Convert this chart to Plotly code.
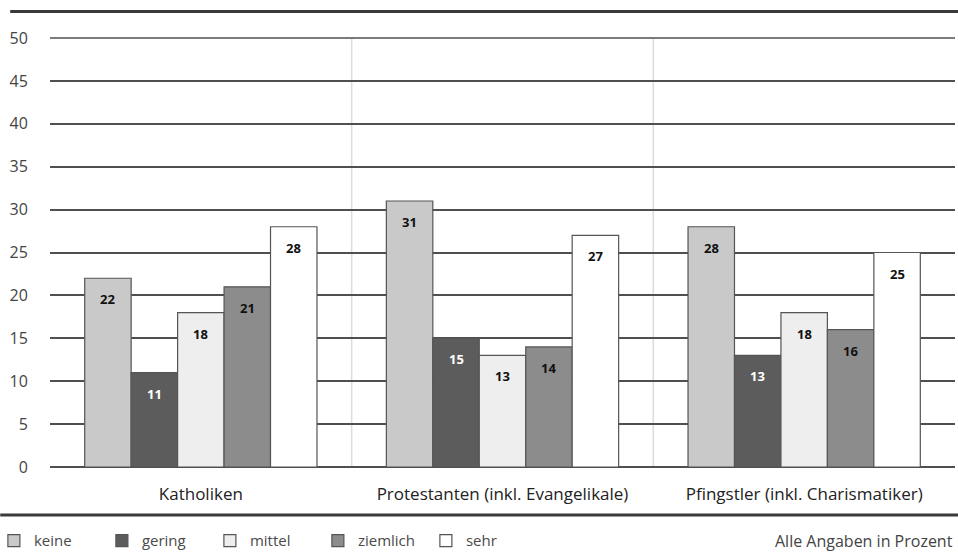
import plotly.graph_objects as go

categories = ['Katholiken', 'Protestanten (inkl. Evangelikale)', 'Pfingstler (inkl. Charismatiker)']
series = ['keine', 'gering', 'mittel', 'ziemlich', 'sehr']
keine = [22, 31, 28]
gering = [11, 15, 13]
mittel = [18, 13, 18]
ziemlich = [21, 14, 16]
sehr = [28, 27, 25]
y_ticks = [0, 5, 10, 15, 20, 25, 30, 35, 40, 45, 50]

values = [keine, gering, mittel, ziemlich, sehr]
fills = ['#c9c9c9', '#5c5c5c', '#eeeeee', '#8c8c8c', '#ffffff']
label_colors = ['#111111', '#ffffff', '#111111', '#111111', '#111111']

W, H = 958, 559
ML, MR, MT, MB = 50, 3, 38, 92
BARGAP = 0.23
GRID = '#4f4f4f'

fig = go.Figure()
for name, vals, fill in zip(series, values, fills):
    fig.add_trace(go.Bar(
        x=categories, y=vals, name=name,
        marker=dict(color=fill, line=dict(color='#555555', width=1.2)),
    ))

# value labels a bit below each bar top
bar_w = (W - ML - MR) / len(categories) * (1 - BARGAP) / len(series)
for i, (vals, lc) in enumerate(zip(values, label_colors)):
    for cat, v in zip(categories, vals):
        fig.add_annotation(x=cat, y=v, text=str(v), showarrow=False,
                           xshift=(i - (len(series) - 1) / 2) * bar_w, yshift=-21,
                           font=dict(family='Open Sans', size=13, color=lc, weight='bold'))

# light separators between the categories
for xb in [0.5, 1.5]:
    fig.add_shape(type='line', xref='x', yref='paper', x0=xb, x1=xb, y0=0, y1=1,
                  line=dict(color='#dcdcdc', width=1.5), layer='below')

# top gridline at 50 (plotly drops the one at the range edge)
fig.add_shape(type='line', xref='paper', yref='paper', x0=0, x1=1, y0=1, y1=1,
              line=dict(color=GRID, width=1.5))

# thick rules at top and bottom
fig.add_shape(type='line', xref='paper', yref='paper', x0=-0.044, x1=1.005, y0=1.062, y1=1.062,
              line=dict(color='#3a3a3a', width=3))
fig.add_shape(type='line', xref='paper', yref='paper', x0=-0.055, x1=1.005, y0=-0.112, y1=-0.112,
              line=dict(color='#3a3a3a', width=3))

fig.add_annotation(text='Alle Angaben in Prozent', xref='paper', yref='paper',
                   x=1.0, y=-0.172, xanchor='right', yanchor='middle', showarrow=False,
                   font=dict(family='Open Sans', size=16, color='#444444'))

fig.update_layout(
    width=W, height=H,
    margin=dict(l=ML, r=MR, t=MT, b=MB, autoexpand=False),
    plot_bgcolor='white', paper_bgcolor='white',
    barmode='group', bargap=BARGAP, bargroupgap=0,
    font=dict(family='Open Sans', size=15, color='#333333'),
    showlegend=True,
    legend=dict(orientation='h', x=-0.062, y=-0.172, xanchor='left', yanchor='middle',
                entrywidth=63, entrywidthmode='pixels', itemwidth=30,
                font=dict(family='Open Sans', size=15, color='#4a4a4a'),
                bgcolor='rgba(0,0,0,0)'),
    xaxis=dict(showgrid=False, showline=False, ticks='outside', ticklen=12,
               tickcolor='rgba(0,0,0,0)', automargin=False,
               tickfont=dict(family='Open Sans', size=17, color='#222222')),
    yaxis=dict(range=[0, 50], tickvals=y_ticks, showgrid=True, gridcolor=GRID, gridwidth=1.5,
               zeroline=True, zerolinecolor=GRID, zerolinewidth=1.5,
               ticks='outside', ticklen=18, tickcolor='rgba(0,0,0,0)', automargin=False,
               tickfont=dict(family='Open Sans', size=16, color='#444444')),
)

fig.write_html('out.html', config={'displayModeBar': False},
               post_script="document.body.style.margin='0';document.body.style.overflow='hidden';")
